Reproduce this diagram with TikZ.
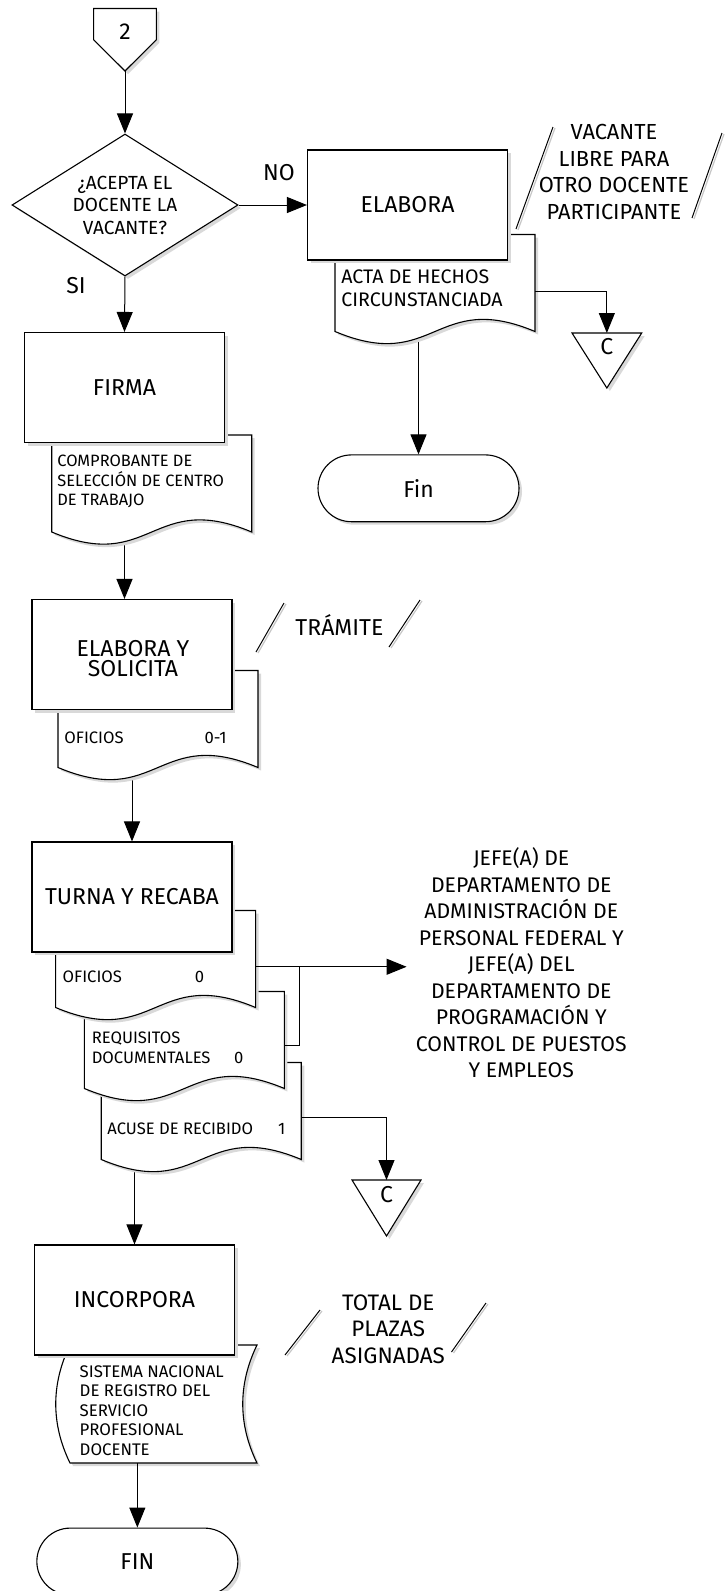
\documentclass[tikz,border=0pt]{standalone}
\usepackage{fontspec}
\setmainfont{Fira Sans}
\usetikzlibrary{shapes.geometric, shapes.misc, arrows.meta, positioning, calc, shadows, backgrounds}

% outline of a document symbol (wavy bottom) round an empty frame node
\newcommand{\docwave}[1]{%
  \draw[shapeline] (#1.north west) -- (#1.south west)
    .. controls ($(#1.south)+(0,42)$) and ($(#1.south)+(0,-42)$) .. (#1.south east)
    -- (#1.north east) -- cycle;}
\newcommand{\storedwave}[1]{%
  \draw[shapeline] (#1.north west)
    .. controls ($(#1.north west)+(-19,39)$) and ($(#1.south west)+(-19,-39)$) .. (#1.south west)
    -- (#1.south east)
    .. controls ($(#1.south east)+(-19,-39)$) and ($(#1.north east)+(-19,39)$) .. (#1.north east)
    -- cycle;}
\newcommand{\tridown}[1]{%
  \draw[shapeline] (#1.north west) -- (#1.north east) -- (#1.south) -- cycle;}
\newcommand{\pentdown}[1]{%
  \draw[shapeline] (#1.north west) -- (#1.north east) -- (#1.east) -- (#1.south) -- (#1.west) -- cycle;}

\begin{document}
\begin{tikzpicture}[
    x=0.5pt, y=-0.5pt,
    shadowed/.style = {drop shadow={shadow xshift=1.5pt, shadow yshift=-1.5pt, fill=black!15, opacity=1}},
    shapeline/.style = {draw, line width=0.55pt, fill=white, shadowed},
    box/.style = {
      shapeline, minimum width=100pt, minimum height=55pt, inner sep=0pt,
      align=center, font=\fontsize{11.5}{10}\selectfont
    },
    docframe/.style = {minimum width=100pt, minimum height=48.5pt, inner sep=0pt, outer sep=0pt},
    decision/.style = {
      shapeline, diamond, aspect=1.6, minimum width=113pt, minimum height=71pt, inner sep=0pt,
      align=center, font=\fontsize{9.5}{11.25}\selectfont
    },
    term/.style = {
      shapeline, rounded rectangle, minimum width=100.5pt, minimum height=33.4pt,
      inner sep=0pt, font=\fontsize{11.5}{13}\selectfont
    },
    arr/.style = {-{Triangle[length=10pt, width=8pt]}, line width=0.5pt},
    wire/.style = {line width=0.5pt},
    lbl/.style = {inner sep=0pt, align=center, font=\fontsize{11.5}{13}\selectfont},
    note/.style = {inner sep=0pt, align=center, font=\fontsize{10.9}{13.2}\selectfont},
    doctxt/.style = {inner sep=0pt, align=left, anchor=west, font=\fontsize{8.3}{9.75}\selectfont},
    slash/.style = {line width=0.5pt},
    slashshade/.style = {line width=0.6pt, black!22},
  ]
    \useasboundingbox (0,0) rectangle (724,1591);

    % Start: off-page connector and decision
    \node[docframe, minimum width=31.35pt, minimum height=31.25pt] (con2) at (125,39.75) {};
    \pentdown{con2}
    \node[lbl] (con2txt) at (125,31.7) {2};
    \node[decision] (dec) at (125,205) {¿ACEPTA EL\\DOCENTE LA\\VACANTE?};
    \node[lbl] (no) at (279,173) {NO};
    \node[lbl] (si) at (76,286) {SI};

    % NO branch
    \node[docframe] (actadoc) at (435,283) {};
    \docwave{actadoc}
    \node[box] (elabora) at (407.5,205) {ELABORA};
    \node[doctxt, font=\fontsize{9.8}{11.5}\selectfont] (actatxt) at (341,288.5) {ACTA DE HECHOS\\CIRCUNSTANCIADA};
    \node[note] (vacante) at (614,172) {VACANTE\\LIBRE PARA\\OTRO DOCENTE\\PARTICIPANTE};
    \node[docframe, minimum width=34.85pt, minimum height=27.5pt] (c1) at (606.85,360.5) {};
    \tridown{c1}
    \node[lbl] (c1txt) at (606.85,346.7) {C};
    \node[term] (fin1) at (418.5,488.3) {Fin};

    % SI branch
    \node[docframe] (compdoc) at (151.7,483.5) {};
    \docwave{compdoc}
    \node[box] (firma) at (124.5,387.5) {FIRMA};
    \node[doctxt, font=\fontsize{8.2}{9.75}\selectfont] (comptxt) at (57,481.5) {COMPROBANTE DE\\SELECCIÓN DE CENTRO\\DE TRABAJO};

    \node[docframe] (ofdoc) at (158,719) {};
    \docwave{ofdoc}
    \node[box] (solicita) at (132,654.5) {};
    \node[lbl, font=\fontsize{11.5}{10}\selectfont] (solicitatxt) at (133,658.5) {ELABORA Y\\SOLICITA};
    \node[doctxt] (oftxt) at (64,738) {OFICIOS};
    \node[lbl, font=\fontsize{8.3}{9.75}\selectfont] (ofnum) at (215.5,738) {0-1};
    \node[lbl] (tramite) at (339.4,625) {TRÁMITE};

    % Turna y recaba with its three documents
    \node[docframe] (acusedoc) at (201.25,1111) {};
    \docwave{acusedoc}
    \node[docframe] (reqdoc) at (184.4,1040) {};
    \docwave{reqdoc}
    \node[docframe] (ofdocb) at (155.6,959) {};
    \docwave{ofdocb}
    \node[box] (turna) at (132,897) {TURNA Y RECABA};
    \node[doctxt] (ofbtxt) at (62.3,977) {OFICIOS};
    \node[lbl, font=\fontsize{8.3}{9.75}\selectfont] (ofbnum) at (199.4,977) {0};
    \node[doctxt] (reqtxt) at (91.4,1048) {REQUISITOS\\DOCUMENTALES};
    \node[lbl, font=\fontsize{8.3}{9.75}\selectfont] (reqnum) at (238.7,1058) {0};
    \node[doctxt] (acusetxt) at (107,1129) {ACUSE DE RECIBIDO};
    \node[lbl, font=\fontsize{8.3}{9.75}\selectfont] (acusenum) at (281.6,1129) {1};
    \node[note, font=\fontsize{10.6}{13.25}\selectfont] (jefe) at (521.3,963) {JEFE(A) DE\\DEPARTAMENTO DE\\ADMINISTRACIÓN DE\\PERSONAL FEDERAL Y\\JEFE(A) DEL\\DEPARTAMENTO DE\\PROGRAMACIÓN Y\\CONTROL DE PUESTOS\\Y EMPLEOS};
    \node[docframe, minimum width=34.5pt, minimum height=28pt] (c2) at (386.5,1208) {};
    \tridown{c2}
    \node[lbl] (c2txt) at (386.5,1195) {C};

    % Incorpora
    \node[docframe, minimum width=93.5pt, minimum height=59pt] (sndoc) at (163.5,1404) {};
    \storedwave{sndoc}
    \node[box] (incorpora) at (134.5,1300) {INCORPORA};
    \node[doctxt, font=\fontsize{8.4}{9.7}\selectfont] (sntxt) at (79.3,1410.5) {SISTEMA NACIONAL\\DE REGISTRO DEL\\SERVICIO\\PROFESIONAL\\DOCENTE};
    \node[note, font=\fontsize{11.2}{13.2}\selectfont] (total) at (388.3,1329) {TOTAL DE\\PLAZAS\\ASIGNADAS};
    \node[term] (fin2) at (137.35,1561.5) {FIN};

    % annotation marks
    \foreach \xa/\ya/\xb/\yb in {516/229/553/127, 692/218/722/133, 256/652/284/603,
                                 389/647/420/600, 285/1355/320/1310, 451.5/1352/486/1303} {
      \draw[slashshade] (\xa+2,\ya+1) -- (\xb+2,\yb+1);
      \draw[slash] (\xa,\ya) -- (\xb,\yb);
    }

    % Connectors
    \draw[arr] (con2.south) -- (dec.north);
    \draw[arr] (dec.east) -- (elabora.west);
    \draw[arr] (dec.south) -- (firma.north);
    \coordinate (actaout) at ($(actadoc.north east)!0.59!(actadoc.south east)$);
    \coordinate (ofout) at ($(ofdocb.north east)!0.58!(ofdocb.south east)$);
    \coordinate (reqout) at ($(reqdoc.north east)!0.56!(reqdoc.south east)$);
    \coordinate (acuseout) at ($(acusedoc.north east)!0.57!(acusedoc.south east)$);
    \draw[arr] (actaout) -| (c1.north);
    \draw[arr, shorten >=4.5pt] (ofout) -- (ofout -| jefe.west);
    \draw[wire] (reqout) -- ++(14.7,0) |- (ofout);
    \draw[arr] (acuseout) -| (c2.north);
    \draw[arr] (sndoc.south -| fin2.north) -- (fin2.north);
    \begin{scope}[on background layer]
      \draw[arr] (fin1.north |- actadoc.center) -- (fin1.north);
      \draw[arr] (firma.south |- compdoc.center) -- (firma.south |- solicita.north);
      \draw[arr] (turna.north |- ofdoc.center) -- (turna.north);
      \draw[arr] (incorpora.north |- acusedoc.center) -- (incorpora.north);
    \end{scope}
  \end{tikzpicture}
\end{document}
